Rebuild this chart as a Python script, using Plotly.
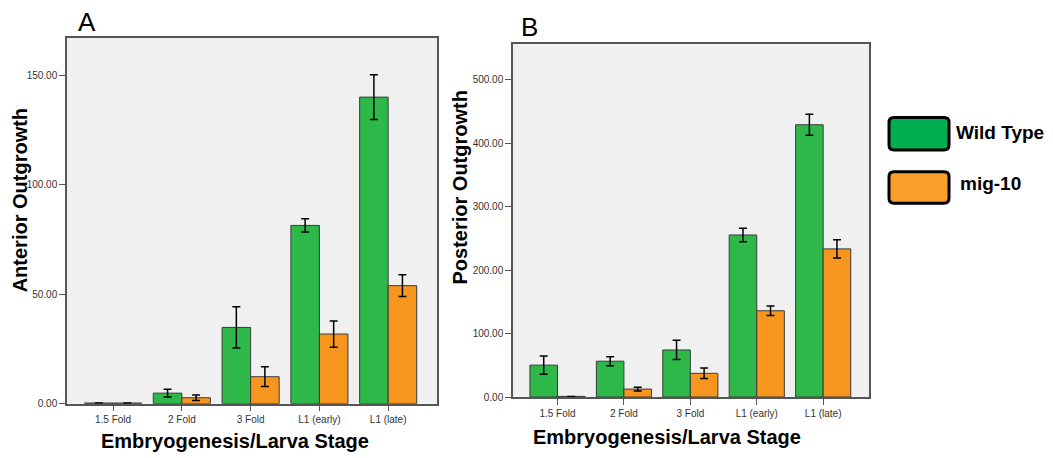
import plotly.graph_objects as go

W, H = 1053, 458

stages = ["1.5 Fold", "2 Fold", "3 Fold", "L1 (early)", "L1 (late)"]
series_names = ["Wild Type", "mig-10"]

# Panel A: Anterior outgrowth
ant_wt = [0.3, 4.8, 34.8, 81.4, 140.0]
ant_wt_err = [0.0, 1.8, 9.4, 3.0, 10.2]
ant_mig = [0.3, 2.7, 12.3, 31.8, 53.9]
ant_mig_err = [0.0, 1.3, 4.5, 6.0, 5.0]

# Panel B: Posterior outgrowth
post_wt = [50.3, 56.5, 74.2, 255.5, 429.3]
post_wt_err = [14.2, 7.0, 15.2, 10.7, 16.6]
post_mig = [1.0, 12.5, 37.4, 136.0, 233.6]
post_mig_err = [0.0, 2.8, 8.2, 7.5, 14.3]

ticks_a = [0, 50, 100, 150]
ticks_b = [0, 100, 200, 300, 400, 500]

GREEN = "#2fb84a"
ORANGE = "#f7961f"
LEG_GREEN = "#00ad4f"
LEG_ORANGE = "#f9a02a"
EDGE = "#3a3a3a"
FONT = "Liberation Sans, Arial, sans-serif"

fig = go.Figure()

def add_bars(vals, errs, color, xa, ya):
    fig.add_trace(go.Bar(
        x=list(range(len(stages))), y=vals,
        error_y=dict(type="data", array=errs, visible=True, color="black",
                     thickness=1.5, width=4),
        marker=dict(color=color, line=dict(color=EDGE, width=1)),
        xaxis=xa, yaxis=ya, showlegend=False))

add_bars(ant_wt, ant_wt_err, GREEN, "x", "y")
add_bars(ant_mig, ant_mig_err, ORANGE, "x", "y")
add_bars(post_wt, post_wt_err, GREEN, "x2", "y2")
add_bars(post_mig, post_mig_err, ORANGE, "x2", "y2")

def px(x):
    return x / W

def py(y):
    return 1 - y / H

axis_common = dict(showline=True, mirror=True, linecolor="#555555", linewidth=1.5,
                   showgrid=False, zeroline=False, ticks="outside", ticklen=6,
                   tickcolor="#555555", tickfont=dict(family=FONT, size=10, color="#333333"))

fig.update_layout(
    width=W, height=H,
    margin=dict(l=0, r=0, t=0, b=0),
    paper_bgcolor="white", plot_bgcolor="#f0f0f0",
    barmode="group", bargap=0.17, bargroupgap=0.0,
    xaxis=dict(domain=[px(67), px(437)], range=[-0.67, 4.71], anchor="y",
               tickvals=list(range(5)), ticktext=stages, **axis_common),
    yaxis=dict(domain=[py(409), py(38.5)], range=[0, 167], anchor="x",
               tickvals=ticks_a, tickformat=".2f", **axis_common),
    xaxis2=dict(domain=[px(513), px(869)], range=[-0.67, 4.69], anchor="y2",
                tickvals=list(range(5)), ticktext=stages, **axis_common),
    yaxis2=dict(domain=[py(402.3), py(45)], range=[0, 556], anchor="x2",
                tickvals=ticks_b, tickformat=".2f", **axis_common),
)

ann = []
def text(x, y, s, size, bold=False, angle=0):
    ann.append(dict(x=px(x), y=py(y), xref="paper", yref="paper", text=f"<b>{s}</b>" if bold else s,
                    showarrow=False, textangle=angle, xanchor="center", yanchor="middle",
                    font=dict(family=FONT, size=size, color="black")))

text(87, 22, "A", 26)
text(529, 27, "B", 26)
text(20, 203, "Anterior Outgrowth", 20, bold=True, angle=-90)
text(460, 190, "Posterior Outgrowth", 20, bold=True, angle=-90)
text(235, 447, "Embryogenesis/Larva Stage", 20, bold=True)
text(667, 443, "Embryogenesis/Larva Stage", 20, bold=True)

# legend
def rrect(x0, y0, x1, y1, r, color):
    X0, X1 = px(x0), px(x1)
    Y0, Y1 = py(y0), py(y1)
    rx, ry = r / W, r / H
    path = (f"M {X0+rx},{Y0} L {X1-rx},{Y0} Q {X1},{Y0} {X1},{Y0-ry} "
            f"L {X1},{Y1+ry} Q {X1},{Y1} {X1-rx},{Y1} L {X0+rx},{Y1} "
            f"Q {X0},{Y1} {X0},{Y1+ry} L {X0},{Y0-ry} Q {X0},{Y0} {X0+rx},{Y0} Z")
    return dict(type="path", xref="paper", yref="paper", path=path,
                fillcolor=color, line=dict(color="black", width=3))

shapes = [rrect(889, 119, 949, 152, 5, LEG_GREEN), rrect(889, 174, 949, 206, 5, LEG_ORANGE)]
for i, name in enumerate(series_names):
    ann.append(dict(x=px(954 if i == 0 else 958), y=py(134 if i == 0 else 186), xref="paper", yref="paper",
                    text=f"<b>{name}</b>", showarrow=False, xanchor="left", yanchor="middle",
                    font=dict(family=FONT, size=19, color="black")))

fig.update_layout(annotations=ann, shapes=shapes)
fig.write_html("out.html", config={"displayModeBar": False},
               post_script="document.body.style.margin='0';document.body.style.overflow='hidden';")
